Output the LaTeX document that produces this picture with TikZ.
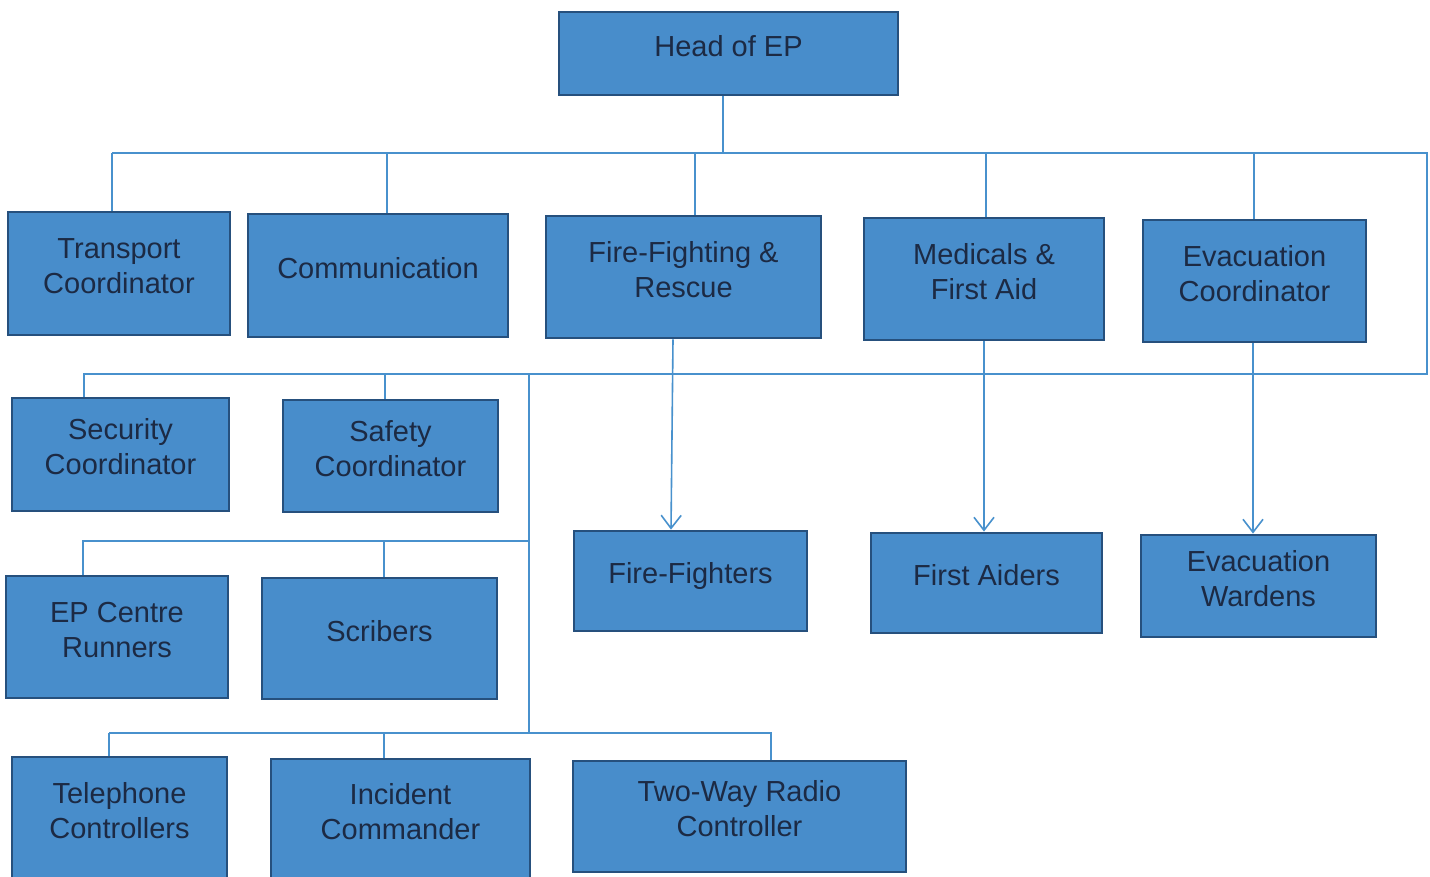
\documentclass[tikz,border=0pt]{standalone}
\usepackage{fontspec}
\setmainfont{Liberation Sans}
\usetikzlibrary{arrows.meta}
\definecolor{boxfill}{RGB}{72,141,203}
\definecolor{boxline}{RGB}{38,80,125}
\definecolor{connc}{RGB}{72,145,205}
\definecolor{txtc}{RGB}{28,42,68}
\tikzset{
  box/.style={draw=boxline, line width=2.8pt, fill=boxfill, rectangle, align=center,
    text=txtc, font=\fontsize{29}{35}\selectfont, inner sep=0pt},
  conn/.style={draw=connc, line width=1.6pt},
  arr/.style={conn, -{Straight Barb[length=13pt,width=20pt,line width=1.6pt]}}
}
\newcommand{\bx}[6]{% name, x1, y1, x2, y2, text
  \node[box, minimum width={#4-#2}, minimum height={#5-#3}] (#1) at ({(#2+#4)/2},{(#3+#5)/2})
  {\raisebox{4.5pt}[\height][\depth]{\begin{tabular}{@{}c@{}}#6\end{tabular}}};}
\begin{document}
\begin{tikzpicture}[x=1pt,y=-1pt]
\useasboundingbox (0,0) rectangle (1430,876);
\fill[white] (0,0) rectangle (1430,876);
\coordinate (b1) at (112,153);
\coordinate (b2) at (1427,153);
\coordinate (b3) at (1427,374);
\coordinate (b4) at (84,374);
\coordinate (v1) at (529,374);
\coordinate (v2) at (529,733);
\coordinate (m1) at (83,541);
\coordinate (m2) at (529,541);
\coordinate (l1) at (109,733);
\coordinate (l2) at (771,733);
%
\bx{head}{559}{12}{898}{95}{Head of EP}
\bx{transport}{8}{212}{230}{335}{Transport\\Coordinator}
\bx{comm}{248}{214}{508}{337}{Communication}
\bx{fire}{546}{216}{821}{338}{Fire-Fighting \&\\Rescue}
\bx{med}{864}{218}{1104}{340}{Medicals \&\\First Aid}
\bx{evac}{1143}{220}{1366}{342}{Evacuation\\Coordinator}
\bx{security}{12}{398}{229}{511}{Security\\Coordinator}
\bx{safety}{283}{400}{498}{512}{Safety\\Coordinator}
\bx{fighters}{574}{531}{807}{631}{Fire-Fighters}
\bx{aiders}{871}{533}{1102}{633}{First Aiders}
\bx{wardens}{1141}{535}{1376}{637}{Evacuation\\Wardens}
\bx{runners}{6}{576}{228}{698}{EP Centre\\Runners}
\bx{scribers}{262}{578}{497}{699}{Scribers}
\bx{phone}{12}{757}{227}{880}{Telephone\\Controllers}
\bx{incident}{271}{759}{530}{880}{Incident\\Commander}
\bx{radio}{573}{761}{906}{872}{Two-Way Radio\\Controller}
% top bus
\draw[conn] (head.south -| 723,0) -- (b1 -| 723,0);
\draw[conn] (b1) -- (b2) -- (b3) -- (b4) -- (security.north -| b4);
\draw[conn] (b1) -- (transport.north -| b1);
\draw[conn] (b1 -| 387,0) -- (comm.north -| 387,0);
\draw[conn] (b1 -| 695,0) -- (fire.north -| 695,0);
\draw[conn] (b1 -| 986,0) -- (med.north -| 986,0);
\draw[conn] (b1 -| 1254,0) -- (evac.north -| 1254,0);
% second bus
\draw[conn] (b4 -| 385,0) -- (safety.north -| 385,0);
\draw[conn] (v1) -- (v2);
\draw[conn] (m2) -- (m1) -- (runners.north -| m1);
\draw[conn] (m1 -| 384,0) -- (scribers.north -| 384,0);
\draw[conn] (l1) -- (l2) -- (radio.north -| l2);
\draw[conn] (l1) -- (phone.north -| l1);
\draw[conn] (l1 -| 384,0) -- (incident.north -| 384,0);
% arrows
\draw[arr] (fire.south -| 673,0) -- (fighters.north -| 671,0);
\draw[arr] (med.south -| 984,0) -- (aiders.north -| 984,0);
\draw[arr] (evac.south -| 1253,0) -- (wardens.north -| 1253,0);
\end{tikzpicture}
\end{document}
